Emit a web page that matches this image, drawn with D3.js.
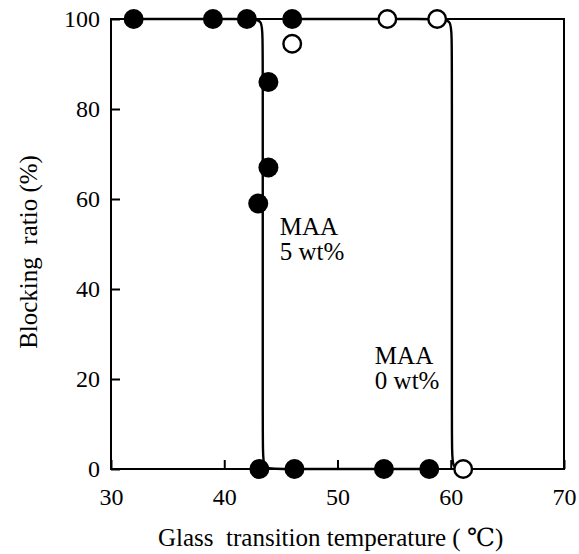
<!DOCTYPE html>
<html>
<head>
<meta charset="utf-8">
<script src="https://cdn.jsdelivr.net/npm/d3@7"></script>
<style>
  body { margin: 0; background: #fff; }
</style>
</head>
<body>
<div id="chart"></div>
<script>
// values
const xTicks = [30, 40, 50, 60, 70];
const yTicks = [0, 20, 40, 60, 80, 100];

// MAA 5 wt% (filled circles)
const filledX = [32, 39, 42, 46, 43.9, 43.9, 43, 43.1, 46.2, 54.1, 58.1];
const filledY = [100, 100, 100, 100, 86, 67, 59, 0, 0, 0, 0];

// MAA 0 wt% (open circles)
const openX = [46, 54.4, 58.8, 61.1];
const openY = [94.5, 100, 100, 0];

// hand drawn guide curves (control points)
const curve5X = [32, 42.3, 43.4, 43.4, 43.4, 43.4, 44.4, 58];
const curve5Y = [100, 100, 100, 95, 5, 0, 0, 0];
const curve0X = [46, 58.9, 60.1, 60.1, 60.1, 60.1, 61.1];
const curve0Y = [100, 100, 100, 95, 5, 0, 0];

const labels = [
  { x: 44.9, y: 52, lines: ["MAA", "5 wt%"] },
  { x: 53.3, y: 23.3, lines: ["MAA", "0 wt%"] }
];

const FONT = "'Liberation Serif', Tinos, 'Times New Roman', Times, 'DejaVu Serif', serif";

const W = 579, H = 554;
const margin = { top: 19, right: 15, bottom: 85, left: 111 };

const svg = d3.select("#chart").append("svg")
  .attr("width", W)
  .attr("height", H)
  .attr("font-family", FONT);

const x = d3.scaleLinear().domain([30, 70]).range([margin.left, W - margin.right]);
const y = d3.scaleLinear().domain([0, 100]).range([H - margin.bottom, margin.top]);

// frame
svg.append("rect")
  .attr("x", x(30))
  .attr("y", y(100))
  .attr("width", x(70) - x(30))
  .attr("height", y(0) - y(100))
  .attr("fill", "none")
  .attr("stroke", "#000")
  .attr("stroke-width", 2);

// axes, ticks point inwards
const yAxis = svg.append("g")
  .attr("transform", `translate(${x(30)},0)`)
  .call(d3.axisLeft(y).tickValues(yTicks).tickSizeInner(-9).tickSizeOuter(0).tickPadding(11));
yAxis.attr("font-family", FONT).attr("font-size", 24);
yAxis.select(".domain").remove();
yAxis.selectAll("line").attr("stroke", "#000").attr("stroke-width", 2);
yAxis.selectAll("text").attr("fill", "#000").style("font-family", FONT);

const xAxis = svg.append("g")
  .attr("transform", `translate(0,${y(0)})`)
  .call(d3.axisBottom(x).tickValues(xTicks).tickSizeInner(-9).tickSizeOuter(0).tickPadding(19));
xAxis.attr("font-family", FONT).attr("font-size", 24);
xAxis.select(".domain").remove();
xAxis.selectAll("line").attr("stroke", "#000").attr("stroke-width", 2);
xAxis.selectAll("text").attr("fill", "#000").style("font-family", FONT);

// curves
const line = d3.line()
  .x(d => x(d[0]))
  .y(d => y(d[1]))
  .curve(d3.curveBasis);

[[curve5X, curve5Y], [curve0X, curve0Y]].forEach(([cx, cy]) => {
  svg.append("path")
    .datum(cx.map((v, i) => [v, cy[i]]))
    .attr("d", line)
    .attr("fill", "none")
    .attr("stroke", "#000")
    .attr("stroke-width", 2.4);
});

// points
svg.selectAll(".filled")
  .data(filledX.map((v, i) => [v, filledY[i]]))
  .join("circle")
  .attr("class", "filled")
  .attr("cx", d => x(d[0]))
  .attr("cy", d => y(d[1]))
  .attr("r", 10)
  .attr("fill", "#000");

svg.selectAll(".open")
  .data(openX.map((v, i) => [v, openY[i]]))
  .join("circle")
  .attr("class", "open")
  .attr("cx", d => x(d[0]))
  .attr("cy", d => y(d[1]))
  .attr("r", 8.8)
  .attr("fill", "#fff")
  .attr("stroke", "#000")
  .attr("stroke-width", 2.4);

// in-plot labels
labels.forEach(l => {
  const t = svg.append("text")
    .attr("x", x(l.x))
    .attr("y", y(l.y))
    .style("font-family", FONT)
    .style("font-size", "25px");
  l.lines.forEach((s, i) => {
    t.append("tspan").attr("x", x(l.x)).attr("dy", i === 0 ? 0 : 25).text(s);
  });
});

// axis titles
svg.append("text")
  .attr("x", 158)
  .attr("y", 546)
  .style("font-family", FONT)
  .style("font-size", "25px")
  .style("white-space", "pre")
  .text("Glass  transition temperature ( \u2103)");

svg.append("text")
  .attr("transform", "translate(37,252) rotate(-90)")
  .attr("text-anchor", "middle")
  .style("font-family", FONT)
  .style("font-size", "25px")
  .style("white-space", "pre")
  .text("Blocking  ratio (%)");
</script>
</body>
</html>
